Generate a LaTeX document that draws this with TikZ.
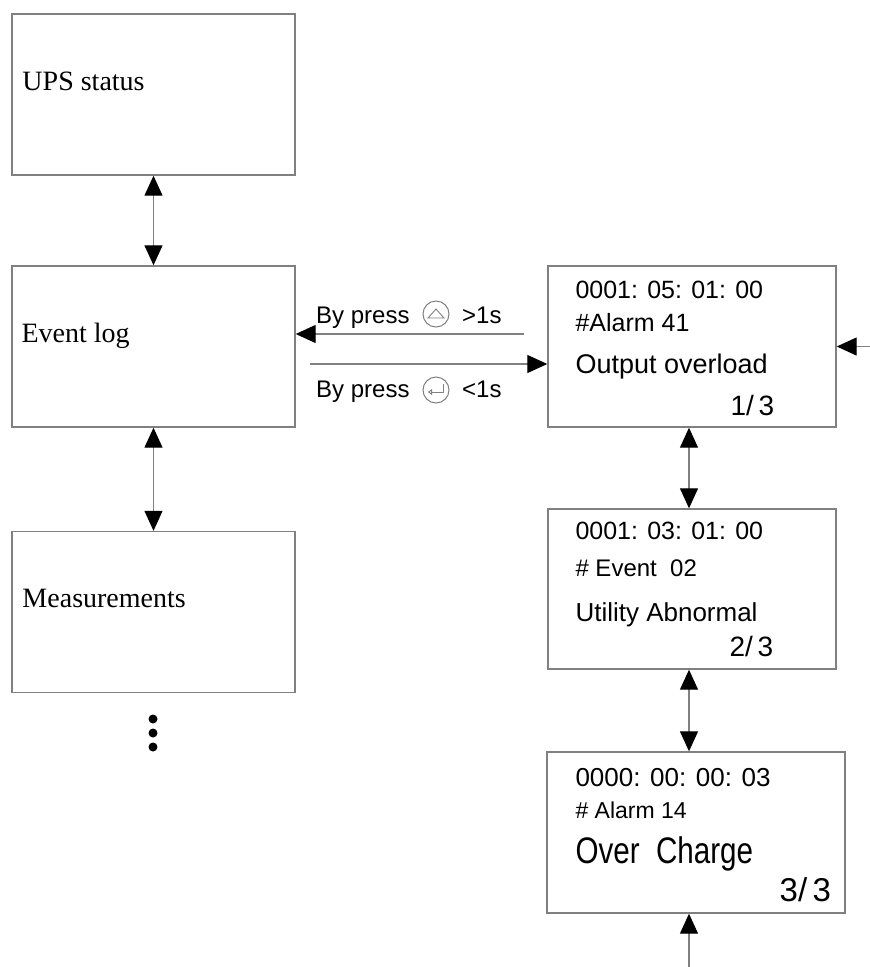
\documentclass[tikz,border=0pt]{standalone}
\usepackage{fontspec}
\setmainfont{Liberation Serif}
\newfontfamily\lcdfont{Liberation Sans}
\usepackage{graphicx}
\usepackage{tikz}
\usetikzlibrary{arrows.meta,positioning}

\tikzset{
    menubox/.style={draw=gray,line width=1.4pt,minimum width=283pt,minimum height=161pt,inner sep=0pt},
    recbox/.style={draw=gray,line width=1.4pt,minimum height=161pt,inner sep=0pt},
    menutext/.style={font=\fontsize{28}{32}\selectfont,anchor=base west,inner sep=0pt},
    lcd/.style={anchor=base west,inner sep=0pt},
    lcdright/.style={anchor=base east,inner sep=0pt},
    link/.style={draw=gray,line width=1.3pt},
    onehead/.style={-{Triangle[length=20pt,width=18pt,color=black]}},
    twohead/.style={{Triangle[length=20pt,width=18pt,color=black]}-{Triangle[length=20pt,width=18pt,color=black]}},
    btn/.style={circle,draw=gray,line width=1pt,minimum size=26pt,inner sep=0pt},
    dot/.style={circle,fill=black,minimum size=9pt,inner sep=0pt}
}

\newcommand{\lcdsize}[1]{\lcdfont\fontsize{#1}{#1}\selectfont}

\begin{document}
\begin{tikzpicture}[x=1pt,y=-1pt]
    \useasboundingbox (0,0) rectangle (870,967);

    \node[menubox] (ups) at (153.5,94.5) {};
    \node[menutext] (upslabel) at ([shift={(11,77)}]ups.north west) {UPS status};
    \node[menubox] (evlog) at (153.5,346.5) {};
    \node[menutext] (evloglabel) at ([shift={(10,77)}]evlog.north west) {Event log};
    \node[menubox] (meas) at (153.5,612) {};
    \node[menutext] (measlabel) at ([shift={(11,76.5)}]meas.north west) {Measurements};

    \foreach \y in {719,733,747}
        \node[dot] (dot\y) at (153,\y) {};

    \draw[link,twohead] (ups.south) -- (evlog.north);
    \draw[link,twohead] (evlog.south) -- (meas.north);

    \node[recbox,minimum width=288pt] (rec1) at (692,346.5) {};
    \node[lcd,font=\lcdsize{25}] (rec1time) at ([shift={(28,33)}]rec1.north west) {0001: 05: 01: 00};
    \node[lcd,font=\lcdsize{25}] (rec1code) at ([shift={(28,66)}]rec1.north west) {\#Alarm 41};
    \node[lcd,font=\lcdsize{27}] (rec1text) at ([shift={(28,108)}]rec1.north west) {Output overload};
    \node[lcdright,font=\lcdsize{28}] (rec1page) at ([shift={(227,150)}]rec1.north west) {1/\,3};

    \node[recbox,minimum width=288pt,minimum height=160pt] (rec2) at (692,589) {};
    \node[lcd,font=\lcdsize{25}] (rec2time) at ([shift={(28,31)}]rec2.north west) {0001: 03: 01: 00};
    \node[lcd,font=\lcdsize{24}] (rec2code) at ([shift={(28,68)}]rec2.north west) {\# Event\ \ 02};
    \node[lcd,font=\lcdsize{26}] (rec2text) at ([shift={(28,113)}]rec2.north west) {Utility Abnormal};
    \node[lcdright,font=\lcdsize{28}] (rec2page) at ([shift={(226,148)}]rec2.north west) {2/\,3};

    \node[recbox,minimum width=298pt] (rec3) at (696,832.5) {};
    \node[lcd,font=\lcdsize{26}] (rec3time) at ([shift={(29,35)}]rec3.north west) {0000: 00: 00: 03};
    \node[lcd,font=\lcdsize{23}] (rec3code) at ([shift={(29,67)}]rec3.north west) {\# Alarm 14};
    \node[lcd,font=\lcdsize{37}] (rec3text) at ([shift={(29,112)}]rec3.north west) {\scalebox{0.8}[1]{Over\ \ Charge}};
    \node[lcdright,font=\lcdsize{33}] (rec3page) at ([shift={(285,150)}]rec3.north west) {3/\,3};

    \draw[link,twohead] ([xshift=-3pt]rec1.south) -- ([xshift=-3pt]rec2.north);
    \draw[link,twohead] ([xshift=-3pt]rec2.south) -- ([xshift=-3pt]rec2.south |- rec3.north);

    \coordinate (inright) at (870,346.5);
    \coordinate (inbottom) at (689,967);
    \draw[link,onehead] (inright) -- (rec1.east);
    \draw[link,onehead] (inbottom) -- (inbottom |- rec3.south);

    \coordinate (back) at (524,334);
    \coordinate (fwd) at (310,364);
    \draw[link,onehead] (back) -- (back -| evlog.east);
    \draw[link,onehead] (fwd) -- (fwd -| rec1.west);

    \node[lcd,font=\lcdsize{24}] (uplabel) at (316,323) {By press};
    \node[btn] (btnup) at (436,314) {};
    \draw[gray,line width=0.9pt] ([shift={(-8,4)}]btnup.center) -- ([shift={(0,-5)}]btnup.center) -- ([shift={(8,4)}]btnup.center) -- cycle;
    \node[lcd,font=\lcdsize{24}] (uptime) at (462,323) {>1s};

    \node[lcd,font=\lcdsize{24}] (entlabel) at (316,397) {By press};
    \node[btn] (btnent) at (436,390) {};
    \draw[gray,line width=0.9pt,-{Triangle[open,length=4pt,width=6pt]}] ([shift={(7,-6)}]btnent.center) -- ([shift={(7,2)}]btnent.center) -- ([shift={(-8,2)}]btnent.center);
    \node[lcd,font=\lcdsize{24}] (enttime) at (462,397) {<1s};
\end{tikzpicture}
\end{document}
